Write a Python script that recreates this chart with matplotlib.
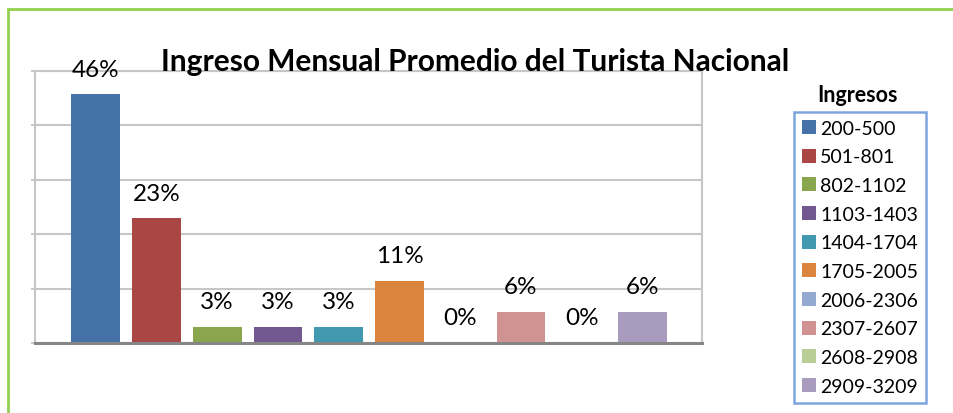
import matplotlib
matplotlib.use("Agg")
import matplotlib.pyplot as plt
from matplotlib.patches import Rectangle
import numpy as np

plt.rcParams['font.family'] = ['Lato', 'DejaVu Sans']

# data
categories = ['200-500', '501-801', '802-1102', '1103-1403', '1404-1704',
              '1705-2005', '2006-2306', '2307-2607', '2608-2908', '2909-3209']
shares = [0.457, 0.229, 0.029, 0.029, 0.029, 0.114, 0.0, 0.057, 0.0, 0.057]
colors = ['#4572A7', '#AA4643', '#89A54E', '#71588F', '#4198AF',
          '#DB843D', '#93A9CF', '#D19392', '#B9CD96', '#A99BBD']
title = 'Ingreso Mensual Promedio del Turista Nacional'
legend_title = 'Ingresos'

fig = plt.figure(figsize=(9.54, 4.14), dpi=100)
ax = fig.add_axes([35 / 954, 1 - 344 / 414, 667 / 954, 272 / 414])

x = np.arange(len(categories))
bars = ax.bar(x, shares, width=0.8, color=colors, zorder=3)

# labels over each bar
for xi, v in zip(x, shares):
    ax.annotate(f"{v * 100:.0f}%", xy=(xi, v), xytext=(0, 13.5),
                textcoords='offset points', ha='center', va='baseline',
                fontsize=17.5, color='black', zorder=4)

ax.set_xlim(-1.0, 9.98)
ax.set_ylim(0, 0.5)
ax.set_yticks(np.arange(0, 0.51, 0.1))
ax.set_yticklabels([])
ax.set_xticks([])
ax.yaxis.grid(True, color='#C6C6C6', linewidth=1.5, zorder=0)
ax.tick_params(axis='y', length=3, color='#BFBFBF', width=1.2)

for side in ['left', 'right', 'top']:
    ax.spines[side].set_color('#C6C6C6')
    ax.spines[side].set_linewidth(1.5)
ax.spines['bottom'].set_color('#868686')
ax.spines['bottom'].set_linewidth(2.2)
ax.spines['bottom'].set_zorder(5)

fig.text(475.5 / 954, 1 - 71 / 414, title, ha='center', va='baseline',
         fontsize=21.5, fontweight='bold')

# legend
leg = ax.legend(bars.patches, categories, loc='upper left',
                bbox_to_anchor=(794 / 954, 1 - 113 / 414), bbox_transform=fig.transFigure,
                fontsize=14, frameon=True, fancybox=False, borderaxespad=0,
                handlelength=0.75, handleheight=0.75, handletextpad=0.2,
                labelspacing=0.6, borderpad=0.4)
frame = leg.get_frame()
frame.set_edgecolor('#5B8FD6')
frame.set_linewidth(1.8)
fig.text(858 / 954, 1 - 102 / 414, legend_title, ha='center', va='baseline',
         fontsize=15.5, fontweight='bold')

# outer green border (open at right and bottom)
fig.patches.append(Rectangle((8 / 954, -0.2), 1.2, 1.2 - 10 / 414 + 0.0,
                             transform=fig.transFigure, fill=False,
                             edgecolor='#92D050', linewidth=2, clip_on=False))

fig.savefig('out.png', dpi=100)
